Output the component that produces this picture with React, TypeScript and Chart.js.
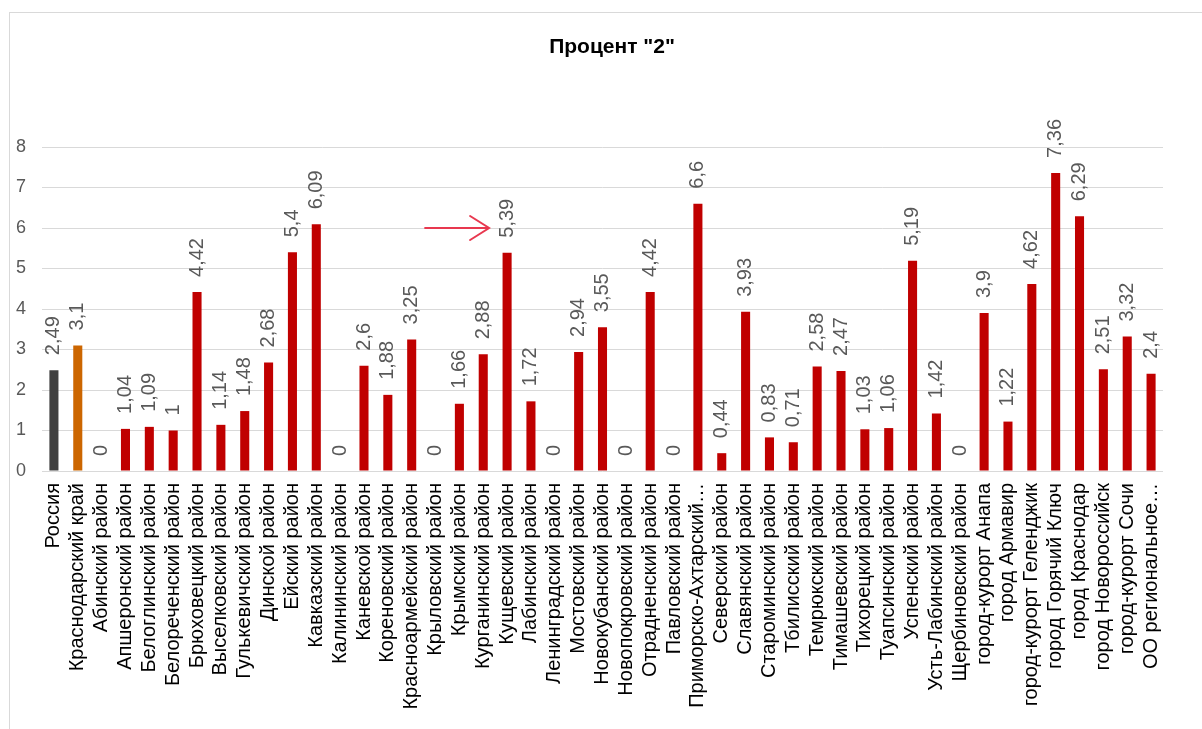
import { useEffect, useRef } from "react";
import { Chart, registerables } from "chart.js";

Chart.register(...registerables);

const FONT = "'Liberation Sans', Arial, sans-serif";

const chartTitle = 'Процент "2"';

const categories = [
  "Россия",
  "Краснодарский край",
  "Абинский район",
  "Апшеронский район",
  "Белоглинский район",
  "Белореченский район",
  "Брюховецкий район",
  "Выселковский район",
  "Гулькевичский район",
  "Динской район",
  "Ейский район",
  "Кавказский район",
  "Калининский район",
  "Каневской район",
  "Кореновский район",
  "Красноармейский район",
  "Крыловский район",
  "Крымский район",
  "Курганинский район",
  "Кущевский район",
  "Лабинский район",
  "Ленинградский район",
  "Мостовский район",
  "Новокубанский район",
  "Новопокровский район",
  "Отрадненский район",
  "Павловский район",
  "Приморско-Ахтарский…",
  "Северский район",
  "Славянский район",
  "Староминский район",
  "Тбилисский район",
  "Темрюкский район",
  "Тимашевский район",
  "Тихорецкий район",
  "Туапсинский район",
  "Успенский район",
  "Усть-Лабинский район",
  "Щербиновский район",
  "город-курорт Анапа",
  "город Армавир",
  "город-курорт Геленджик",
  "город Горячий Ключ",
  "город Краснодар",
  "город Новороссийск",
  "город-курорт Сочи",
  "ОО региональное…",
];

const values = [
  2.49, 3.1, 0, 1.04, 1.09, 1, 4.42, 1.14, 1.48, 2.68, 5.4, 6.09, 0, 2.6, 1.88,
  3.25, 0, 1.66, 2.88, 5.39, 1.72, 0, 2.94, 3.55, 0, 4.42, 0, 6.6, 0.44, 3.93,
  0.83, 0.71, 2.58, 2.47, 1.03, 1.06, 5.19, 1.42, 0, 3.9, 1.22, 4.62, 7.36,
  6.29, 2.51, 3.32, 2.4,
];

const yTicks = [0, 1, 2, 3, 4, 5, 6, 7, 8];

const arrowTarget = "Кущевский район";

const COLOR_RUSSIA = "#404040";
const COLOR_REGION = "#CC6600";
const COLOR_DISTRICT = "#C00000";

const barColors = categories.map((_, i) =>
  i === 0 ? COLOR_RUSSIA : i === 1 ? COLOR_REGION : COLOR_DISTRICT
);

const framePlugin = {
  id: "frame",
  beforeDraw(chart: any) {
    const ctx = chart.ctx;
    ctx.save();
    ctx.fillStyle = "#ffffff";
    ctx.fillRect(0, 0, chart.width, chart.height);
    ctx.strokeStyle = "#d9d9d9";
    ctx.lineWidth = 1;
    ctx.strokeRect(9.5, 12.5, chart.width + 50, chart.height + 50);
    ctx.restore();
  },
};

const titlePlugin = {
  id: "customTitle",
  afterDraw(chart: any) {
    const ctx = chart.ctx;
    ctx.save();
    ctx.font = `bold 21px ${FONT}`;
    ctx.fillStyle = "#000000";
    ctx.textAlign = "center";
    ctx.textBaseline = "middle";
    ctx.fillText(chartTitle, 612, 47);
    ctx.restore();
  },
};

const valueLabelPlugin = {
  id: "valueLabels",
  afterDatasetsDraw(chart: any) {
    const ctx = chart.ctx;
    const meta = chart.getDatasetMeta(0);
    ctx.save();
    ctx.font = `20px ${FONT}`;
    ctx.fillStyle = "#595959";
    ctx.textAlign = "left";
    ctx.textBaseline = "middle";
    meta.data.forEach((el: any, i: number) => {
      const txt = String(values[i]).replace(".", ",");
      ctx.save();
      ctx.translate(el.x, el.y - 15);
      ctx.rotate(-Math.PI / 2);
      ctx.fillText(txt, 0, 0);
      ctx.restore();
    });
    ctx.restore();
  },
};

const arrowPlugin = {
  id: "arrow",
  afterDraw(chart: any) {
    const xs = chart.scales.x;
    const ys = chart.scales.y;
    const idx = categories.indexOf(arrowTarget);
    const tipX = xs.getPixelForValue(idx) - 18;
    const y = ys.getPixelForValue(6);
    const ctx = chart.ctx;
    ctx.save();
    ctx.strokeStyle = "#E8384F";
    ctx.lineWidth = 2;
    ctx.lineCap = "round";
    ctx.beginPath();
    ctx.moveTo(tipX - 64, y);
    ctx.lineTo(tipX, y);
    ctx.moveTo(tipX - 19, y - 12);
    ctx.lineTo(tipX, y);
    ctx.lineTo(tipX - 19, y + 12);
    ctx.stroke();
    ctx.restore();
  },
};

export default function App() {
  const ref = useRef<HTMLCanvasElement | null>(null);

  useEffect(() => {
    if (!ref.current) return;
    const chart = new Chart(ref.current, {
      type: "bar",
      data: {
        labels: categories,
        datasets: [
          {
            data: values,
            backgroundColor: barColors,
            borderWidth: 0,
            barPercentage: 0.38,
            categoryPercentage: 1,
          },
        ],
      },
      options: {
        responsive: false,
        animation: false,
        devicePixelRatio: 1,
        layout: { padding: { left: 10, right: 39, top: 147, bottom: 0 } },
        plugins: {
          legend: { display: false },
          title: { display: false },
          tooltip: { enabled: false },
        },
        scales: {
          x: {
            grid: { display: false, drawTicks: false },
            border: { display: false },
            ticks: {
              autoSkip: false,
              maxRotation: 90,
              minRotation: 90,
              padding: 12,
              color: "#000000",
              font: { family: FONT, size: 20 },
            },
            afterFit: (s: any) => {
              s.height = 258;
            },
          },
          y: {
            min: yTicks[0],
            max: yTicks[yTicks.length - 1],
            afterBuildTicks: (s: any) => {
              s.ticks = yTicks.map((v) => ({ value: v }));
            },
            ticks: {
              padding: 16,
              color: "#595959",
              font: { family: FONT, size: 18 },
            },
            grid: { color: "#d9d9d9", drawTicks: false, lineWidth: 1 },
            border: { display: false },
            afterFit: (s: any) => {
              s.width = 32;
            },
          },
        },
      },
      plugins: [framePlugin, valueLabelPlugin, arrowPlugin, titlePlugin],
    } as any);
    return () => chart.destroy();
  }, []);

  return (
    <canvas
      ref={ref}
      width={1202}
      height={729}
      style={{ position: "absolute", left: 0, top: 0, display: "block" }}
    />
  );
}
